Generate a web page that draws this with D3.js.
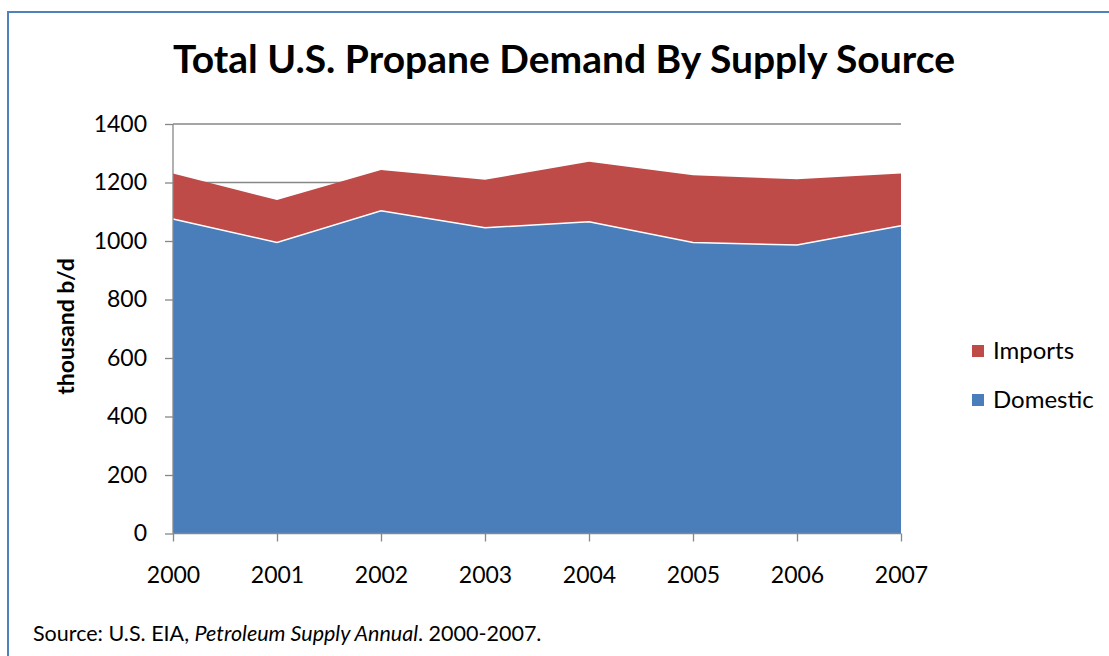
<!DOCTYPE html>
<html><head><meta charset="utf-8">
<script src="https://cdn.jsdelivr.net/npm/d3@7"></script>
<style>body{margin:0;background:#fff;} svg{display:block;}</style>
</head><body>
<svg id="c" width="1109" height="656"></svg>
<script>
const years = [2000, 2001, 2002, 2003, 2004, 2005, 2006, 2007];
const domestic = [1075, 995, 1103, 1045, 1066, 995, 986, 1052];
const imports = [156, 145, 140, 164, 205, 230, 225, 179];
const yTicks = [0, 200, 400, 600, 800, 1000, 1200, 1400];
const seriesNames = ["Domestic", "Imports"];
const colors = {Domestic: "#4A7EBB", Imports: "#BE4B48"};

const svg = d3.select("#c");
const font = "Lato, 'Open Sans', sans-serif";
const L = 173, R = 901, T = 124, B = 533.5;

svg.append("rect").attr("x", 8).attr("y", 12).attr("width", 1120).attr("height", 680)
  .attr("fill", "none").attr("stroke", "#4F81BD").attr("stroke-width", 2);

const x = d3.scaleLinear().domain([years[0], years[years.length - 1]]).range([L, R]);
const y = d3.scaleLinear().domain([0, 1400]).range([B, T]);

// gridlines
svg.append("g").selectAll("line").data(yTicks.filter(d => d > 0)).join("line")
  .attr("x1", L).attr("x2", R).attr("y1", d => y(d)).attr("y2", d => y(d))
  .attr("stroke", "#878787").attr("stroke-width", 1.3);

const table = years.map((yr, i) => ({year: yr, Domestic: domestic[i], Imports: imports[i]}));
const stack = d3.stack().keys(seriesNames)(table);
const area = d3.area().x(d => x(d.data.year)).y0(d => y(d[0])).y1(d => y(d[1]));

svg.append("g").selectAll("path").data(stack).join("path")
  .attr("d", area).attr("fill", d => colors[d.key]);
// white edge on domestic top
svg.append("path").datum(stack[0])
  .attr("d", d3.line().x(d => x(d.data.year)).y(d => y(d[1])))
  .attr("fill", "none").attr("stroke", "#fff").attr("stroke-width", 1.5);

// axes
const yAxis = svg.append("g").attr("transform", `translate(${L},0)`)
  .call(d3.axisLeft(y).tickValues(yTicks).tickSize(8).tickPadding(18).tickFormat(d3.format("d")));
const xAxis = svg.append("g").attr("transform", `translate(0,${B})`)
  .call(d3.axisBottom(x).tickValues(years).tickSize(8).tickPadding(25).tickFormat(d3.format("d")));
[yAxis, xAxis].forEach(g => {
  g.select(".domain").attr("stroke", "#878787").attr("stroke-width", 1.3);
  g.selectAll(".tick line").attr("stroke", "#878787").attr("stroke-width", 1.3);
  g.selectAll("text").attr("fill", "#000").style("font-family", font).style("font-size", "23px");
});
yAxis.select(".domain").attr("d", `M0,${T}V${B}`);
xAxis.select(".domain").attr("d", `M${L},0H${R}`);

// title
svg.append("text").attr("x", 564).attr("y", 73).attr("text-anchor", "middle")
  .style("font-family", font).style("font-weight", "bold").style("font-size", "39px")
  .text("Total U.S. Propane Demand By Supply Source");

// y axis title
svg.append("text").attr("transform", "translate(74,326.5) rotate(-90)").attr("text-anchor", "middle")
  .style("font-family", font).style("font-weight", "bold").style("font-size", "23px")
  .text("thousand b/d");

// legend
const legendItems = ["Imports", "Domestic"];
const lg = svg.append("g").selectAll("g").data(legendItems).join("g")
  .attr("transform", (d, i) => `translate(972,${345 + i * 49})`);
lg.append("rect").attr("width", 12).attr("height", 12).attr("fill", d => colors[d]);
lg.append("text").attr("x", 21).attr("y", 14.3).style("font-family", font).style("font-size", "24px")
  .text(d => d);

// source
const src = svg.append("text").attr("x", 33).attr("y", 641)
  .style("font-family", font).style("font-size", "21.5px");
src.append("tspan").text("Source: U.S. EIA, ");
src.append("tspan").style("font-style", "italic").text("Petroleum Supply Annual");
src.append("tspan").text(". 2000-2007.");
</script>
</body></html>
